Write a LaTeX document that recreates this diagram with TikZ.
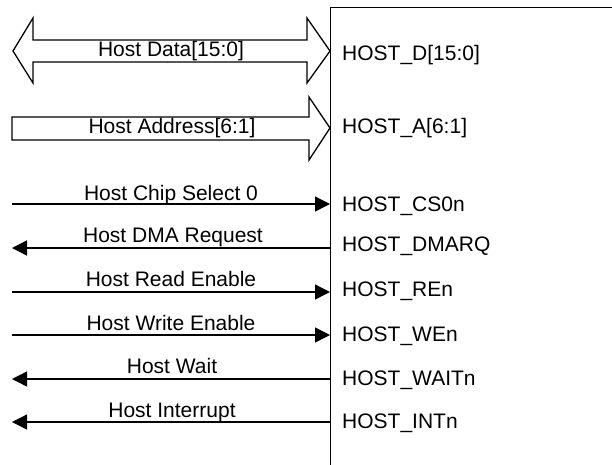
\documentclass[tikz,border=0pt]{standalone}
\usepackage{fontspec}
\setmainfont{Liberation Sans}
\usetikzlibrary{arrows.meta}
\begin{document}
\begin{tikzpicture}[x=1pt,y=-1pt,
  every node/.style={font=\fontsize{21}{25}\selectfont, inner sep=0pt},
  wire/.style={line width=1.3pt, -{Triangle[length=15pt,width=15pt]}},
  bus/.style={line width=1.3pt, fill=white, line join=miter},
  lbl/.style={anchor=base},
  pin/.style={anchor=base west}]
\useasboundingbox (0,0) rectangle (612,464);
\clip (0,0) rectangle (612,464);
% block
\node[draw, line width=1.3pt, anchor=north west, minimum width=300pt, minimum height=480pt] (blk) at (330,7) {};
% bus arrows
\draw[bus] (13,51) -- (33,18) -- (33,40) -- (307,40) -- (307,18) -- (blk.west |- 0,51) -- (307,83) -- (307,62) -- (33,62) -- (33,83) -- cycle;
\draw[bus] (12,117) -- (309,117) -- (309,97) -- (blk.west |- 0,128) -- (309,160) -- (309,140) -- (12,140) -- cycle;
\node (ldata) at (171,51) {Host Data[15:0]};
\node (laddr) at (172,128) {Host Address[6:1]};
\node[pin] (pdata) at (342,60) {HOST\_D[15:0]};
\node[pin] (paddr) at (342,133) {HOST\_A[6:1]};
% signal end points
\coordinate (cs) at (12,204);
\coordinate (dma) at (12,248);
\coordinate (re) at (12,292);
\coordinate (we) at (12,335);
\coordinate (wt) at (12,379);
\coordinate (it) at (12,422);
% wires
\draw[wire] (cs) -- (cs -| blk.west);
\draw[wire] (dma -| blk.west) -- (dma);
\draw[wire] (re) -- (re -| blk.west);
\draw[wire] (we) -- (we -| blk.west);
\draw[wire] (wt -| blk.west) -- (wt);
\draw[wire] (it -| blk.west) -- (it);
% wire labels
\node[lbl] (lcs) at (171,200) {Host Chip Select 0};
\node[lbl] (ldma) at (173,242) {Host DMA Request};
\node[lbl] (lre) at (171,286) {Host Read Enable};
\node[lbl] (lwe) at (171,330) {Host Write Enable};
\node[lbl] (lwt) at (172,373) {Host Wait};
\node[lbl] (lit) at (172,417) {Host Interrupt};
% pin labels
\node[pin] (pcs) at (342,211) {HOST\_CS0n};
\node[pin] (pdma) at (342,251) {HOST\_DMARQ};
\node[pin] (pre) at (342,296) {HOST\_REn};
\node[pin] (pwe) at (342,341) {HOST\_WEn};
\node[pin] (pwt) at (342,385) {HOST\_WAITn};
\node[pin] (pit) at (342,428) {HOST\_INTn};
\end{tikzpicture}
\end{document}
